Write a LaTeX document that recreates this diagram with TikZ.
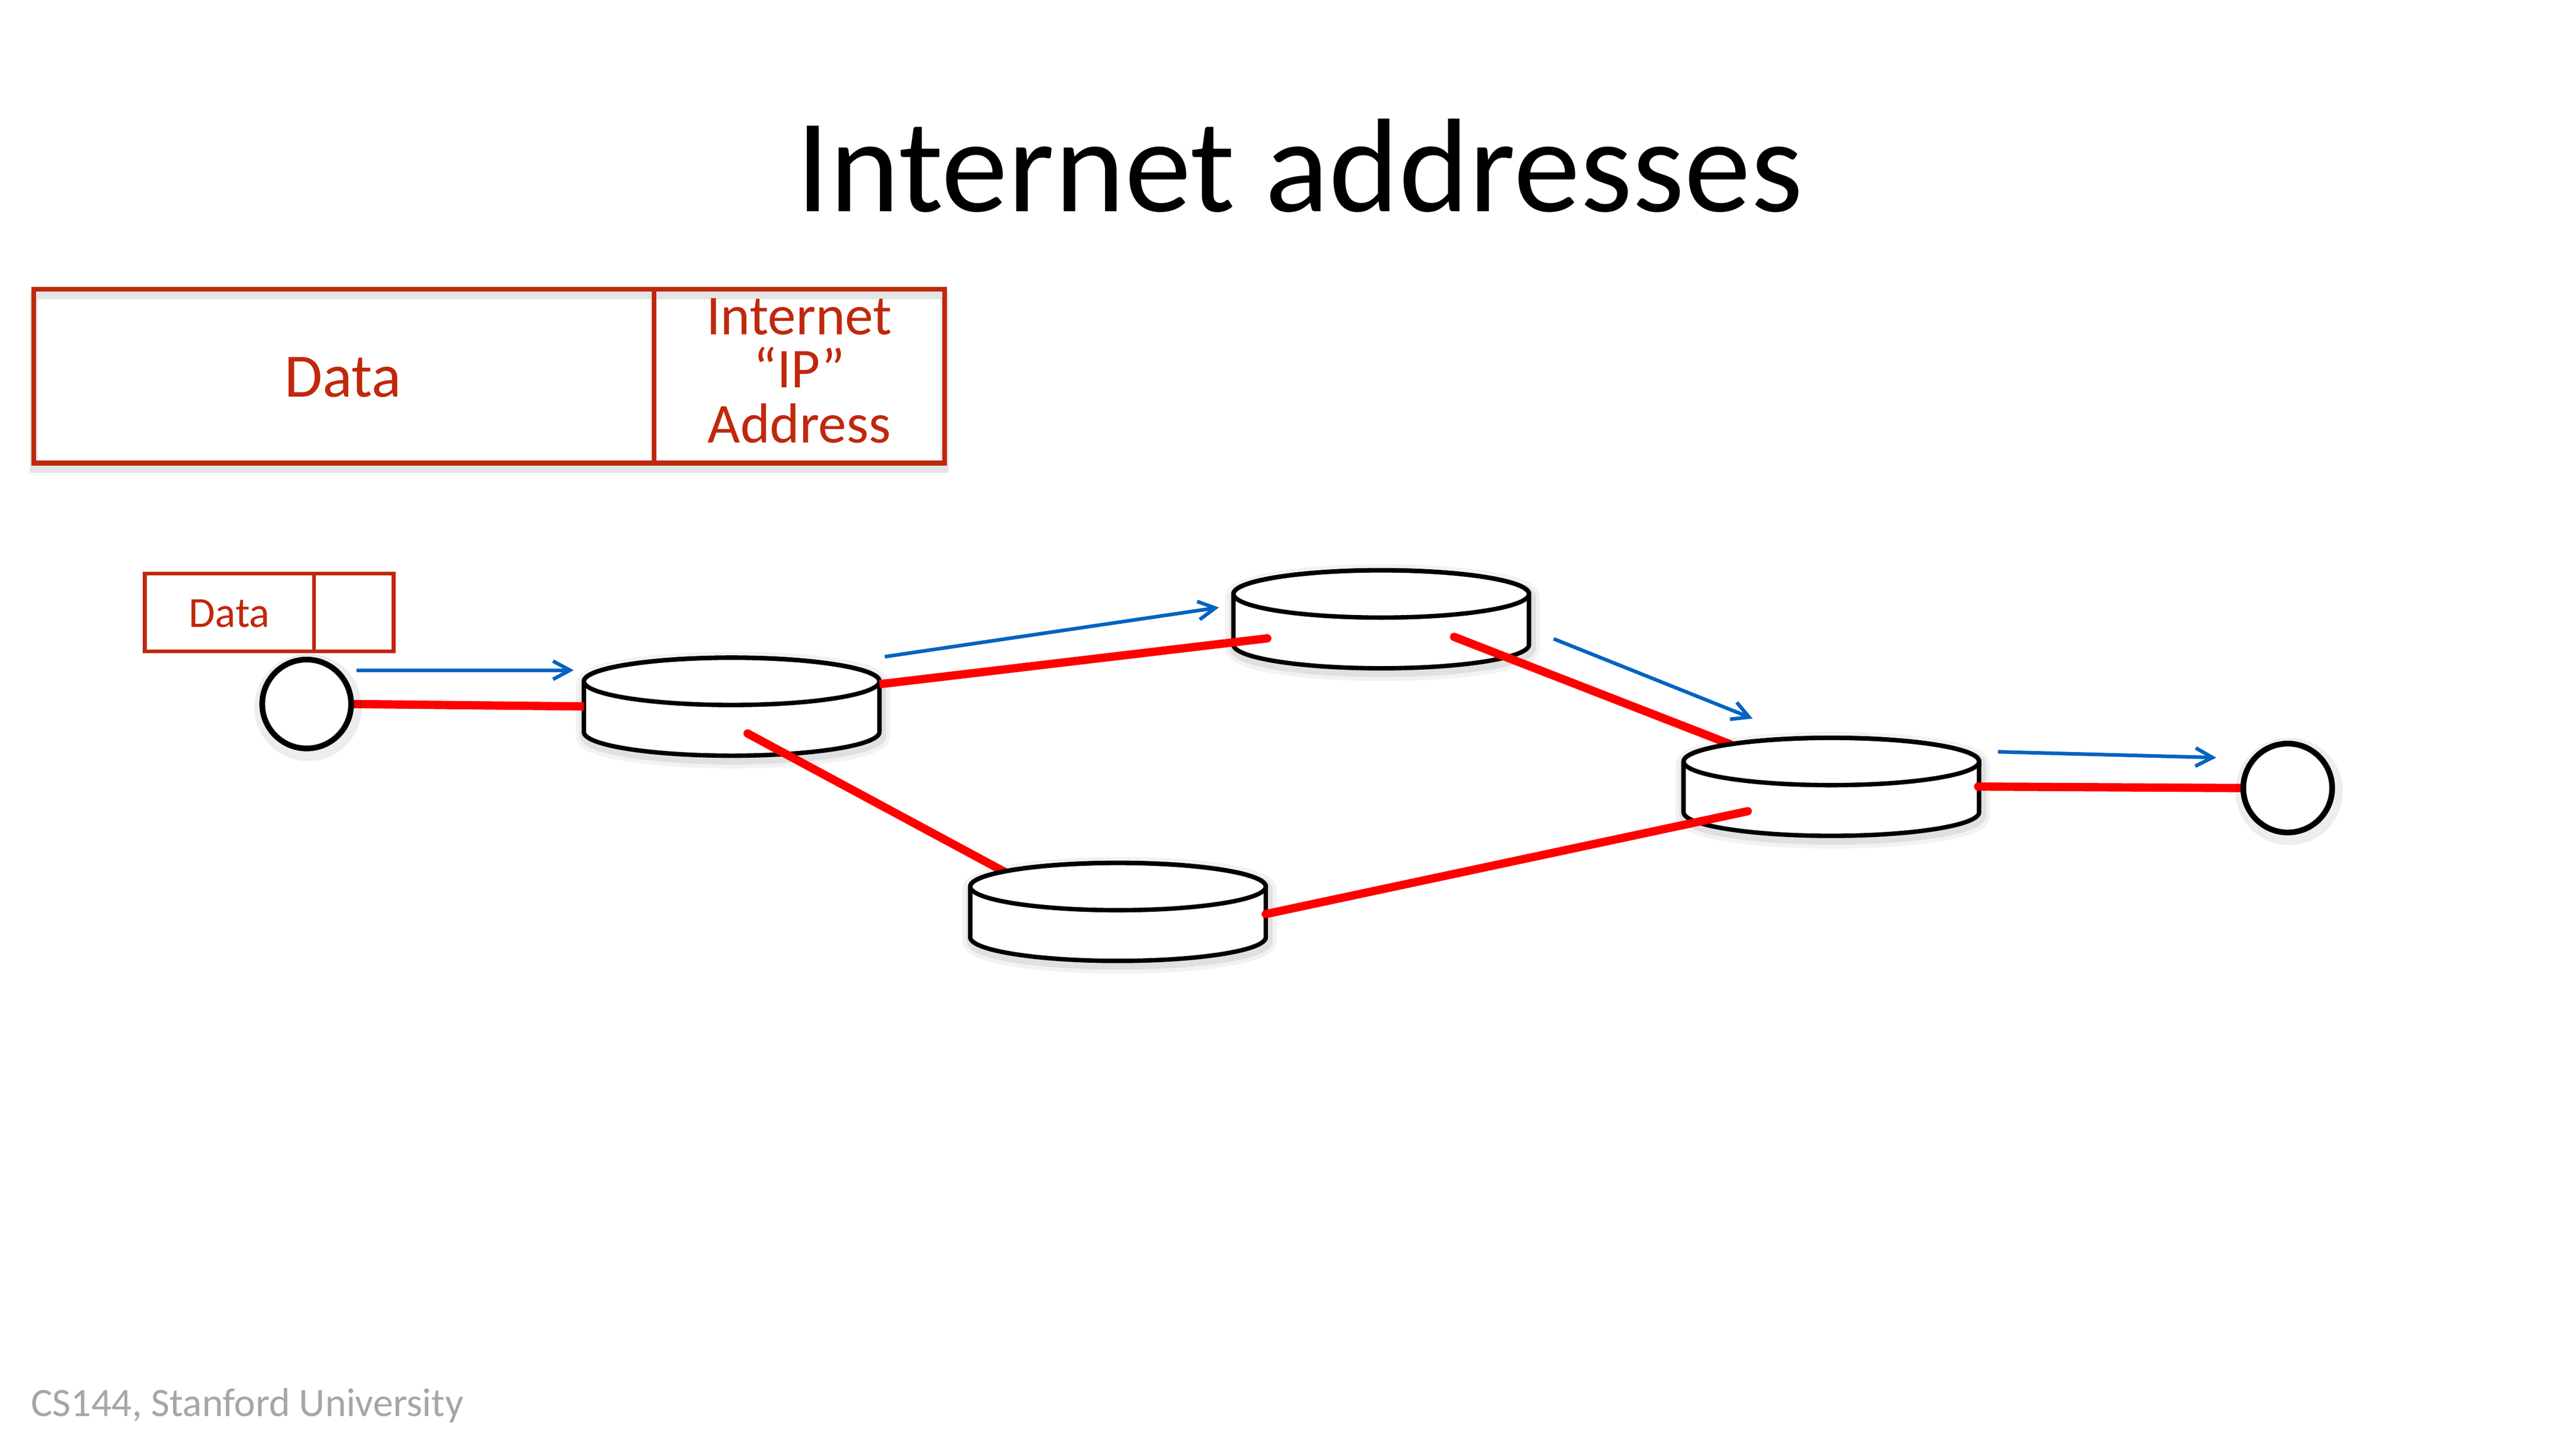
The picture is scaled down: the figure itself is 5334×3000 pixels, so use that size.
\documentclass[tikz,border=0pt]{standalone}
\usepackage{fontspec}
\setmainfont{Carlito}
\usetikzlibrary{arrows.meta}
\definecolor{boxred}{RGB}{192,40,12}
\definecolor{linkred}{RGB}{255,0,0}
\definecolor{flowblue}{RGB}{5,99,193}
\definecolor{footgray}{RGB}{166,166,166}
\newcommand{\RX}{55.07pt}
\newcommand{\RY}{8.82pt}
\newcommand{\router}[3]{%
  \coordinate (#1) at (#2,#3);
  \begin{scope}[shift={(3,7)}]
    \draw[black,opacity=0.05,line width=7pt,line join=round] (#2-306,#3) -- (#2-306,#3+105) arc[start angle=180,end angle=360,x radius=\RX,y radius=\RY] -- (#2+306,#3) arc[start angle=0,end angle=180,x radius=\RX,y radius=\RY] -- cycle;
    \draw[black,opacity=0.07,line width=4pt,line join=round] (#2-306,#3) -- (#2-306,#3+105) arc[start angle=180,end angle=360,x radius=\RX,y radius=\RY] -- (#2+306,#3) arc[start angle=0,end angle=180,x radius=\RX,y radius=\RY] -- cycle;
  \end{scope}
  \filldraw[cylline,fill=white] (#2-306,#3) -- (#2-306,#3+105) arc[start angle=180,end angle=360,x radius=\RX,y radius=\RY] -- (#2+306,#3) arc[start angle=0,end angle=180,x radius=\RX,y radius=\RY] -- cycle;
  \draw[cylline] (#2,#3) ellipse [x radius=\RX, y radius=\RY];
}
\begin{document}
\begin{tikzpicture}[x=0.179977pt,y=-0.179977pt,
  cylline/.style={draw=black,line width=1.65pt,line join=round},
  bigcell/.style={draw=boxred,line width=1.8pt,inner sep=0pt,outer sep=0pt,minimum height=64.79pt},
  smallcell/.style={draw=boxred,line width=1.45pt,inner sep=0pt,outer sep=0pt,minimum height=28.98pt},
  boxtext/.style={text=boxred,inner sep=0pt,anchor=base},
  redlink/.style={draw=linkred,line width=3.1pt,line cap=round},
  flow/.style={draw=flowblue,line width=1.35pt,-{Straight Barb[length=6.3pt,width=6.8pt]}},
  host/.style={circle,draw=black,fill=white,line width=2.1pt,minimum size=33.1pt,inner sep=0pt,outer sep=0pt},
  halo/.style={draw=black,opacity=0.07}
]
\useasboundingbox (0,0) rectangle (5334,3000);
\fill[white] (0,0) rectangle (5334,3000);

% title and footer
\node[anchor=base,inner sep=0pt,font=\fontsize{49.7pt}{60pt}\selectfont] (title) at (2691,438) {Internet addresses};
\node[anchor=base west,inner sep=0pt,text=footgray,font=\fontsize{15pt}{18pt}\selectfont] (footer) at (63,2933) {CS144, Stanford University};

% big packet
\draw[black,opacity=0.10,line width=3pt] (70,611) rectangle (1956,971);
\node[bigcell,minimum width=231.09pt] (bigdata) at (712,779) {};
\node[bigcell,minimum width=108.35pt] (bigaddr) at (1655,779) {};
\node[boxtext,font=\fontsize{23pt}{28pt}\selectfont] (datatxt) at (710,822) {Data};
\node[boxtext,font=\fontsize{21pt}{25pt}\selectfont] (addr1) at (1655,693) {Internet};
\node[boxtext,font=\fontsize{21pt}{25pt}\selectfont] (addr2) at (1655,803) {“IP”};
\node[boxtext,font=\fontsize{21pt}{25pt}\selectfont] (addr3) at (1655,917) {Address};

% small packet
\node[smallcell,minimum width=62.99pt] (smdata) at (475,1268.5) {};
\node[smallcell,minimum width=29.7pt] (smhdr) at (732.5,1268.5) {};
\node[boxtext,font=\fontsize{16pt}{19pt}\selectfont] (smtxt) at (475,1299) {Data};

% routers (back ones)
\router{r1}{1515}{1411}
\router{r2}{2860}{1230}

% link end points
\coordinate (r1w) at (1209,1463);
\coordinate (r1e) at (1821,1417);
\coordinate (r1in) at (1548,1519);
\coordinate (r2in) at (2624,1322);
\coordinate (r2in2) at (3011,1319);
\coordinate (r4top) at (2092,1812);
\coordinate (r3top) at (3582,1541);
\coordinate (r4e) at (2621,1893);
\coordinate (r3in) at (3619,1680);
\coordinate (r3e) at (4096,1629);

\draw[redlink,line cap=butt] (r1e) -- (r2in);
\fill[linkred] (r2in) circle[radius=1.55pt];
\draw[redlink] (r1in) -- (r4top);
\draw[redlink] (r2in2) -- (r3top);

\router{r3}{3792}{1577}
\router{r4}{2315}{1836}

\draw[redlink] (r4e) -- (r3in);

% hosts
\node[host] (h1) at (635,1458) {};
\node[host] (h2) at (4737,1632) {};
\draw[redlink,line cap=butt] (h1.east) -- (r1w);
\draw[redlink] (r3e) -- (h2.west);
\draw[halo,line width=5pt] ([shift={(3,7)}]h1.center) circle[radius=17.5pt];
\draw[halo,line width=5pt] ([shift={(3,7)}]h2.center) circle[radius=17.5pt];
\node[host] at (h1) {};
\node[host] at (h2) {};

% flow arrows
\coordinate (a1s) at (738,1388);
\coordinate (a1e) at (1188,1388);
\coordinate (a2s) at (1832,1360);
\coordinate (a2e) at (2524,1258);
\coordinate (a3s) at (3217,1323);
\coordinate (a3e) at (3629,1488);
\coordinate (a4s) at (4137,1557);
\coordinate (a4e) at (4589,1569);
\draw[flow] (a1s) -- (a1e);
\draw[flow] (a2s) -- (a2e);
\draw[flow] (a3s) -- (a3e);
\draw[flow] (a4s) -- (a4e);
\end{tikzpicture}
\end{document}
